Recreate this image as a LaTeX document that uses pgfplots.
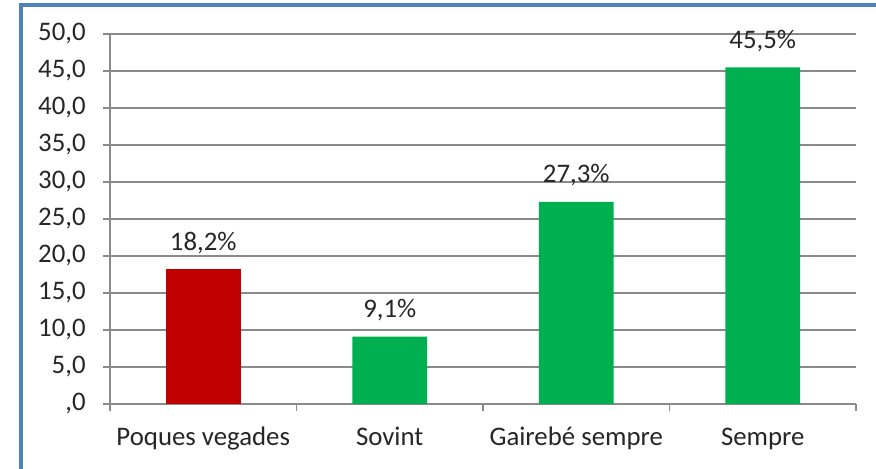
\documentclass[border=0pt]{standalone}
\usepackage{fontspec}
\setmainfont{Carlito}
\usepackage{pgfplots}
\pgfplotsset{compat=1.18}
\definecolor{barred}{HTML}{C00000}
\definecolor{bargreen}{HTML}{00B050}
\definecolor{gridgray}{HTML}{8A8A8A}
\definecolor{frameblue}{HTML}{4F81BD}
\definecolor{txt}{HTML}{262626}
\newcommand{\cf}{\fontsize{13.4}{16}\selectfont}

\begin{document}
\begin{tikzpicture}[x=1pt,y=1pt]
\useasboundingbox (0,0) rectangle (438,234);
\draw[frameblue, line width=2pt] (10.25,-2) -- (10.25,231.7) -- (440,231.7);
\begin{axis}[
    at={(55pt,32pt)}, anchor=south west,
    scale only axis, width=373pt, height=185pt,
    xmin=-0.5, xmax=3.5, ymin=0, ymax=50,
    axis x line=bottom, axis y line=left,
    axis line style={-, draw=gridgray, line width=0.8pt},
    ymajorgrids, major grid style={draw=gridgray, line width=0.8pt},
    tick align=outside, major tick length=3.5pt,
    tick style={draw=gridgray, line width=0.8pt},
    ytick={0,5,...,50},
    yticklabels={{,0},{5,0},{10,0},{15,0},{20,0},{25,0},{30,0},{35,0},{40,0},{45,0},{50,0}},
    yticklabel style={font=\cf, text=txt, anchor=east, inner sep=0pt, xshift=-8.5pt},
    xtick={-0.5,0.5,1.5,2.5,3.5}, xticklabels={},
    extra x ticks={0,1,2,3},
    extra x tick labels={Poques vegades, Sovint, Gairebé sempre, Sempre},
    extra x tick style={major tick length=0pt,
        xticklabel style={font=\cf, text=txt, anchor=base, inner sep=0pt, yshift=-20.5pt}},
    ybar, bar width=0.4, bar shift=0pt,
    nodes near coords, point meta=explicit symbolic,
    every node near coord/.append style={font=\cf, text=txt, anchor=base, inner sep=0pt, yshift=9.5pt},
    clip=false,
]
\addplot[fill=barred, draw=none] coordinates {(0,18.2)[18,2\%]};
\addplot[fill=bargreen, draw=none] coordinates {(1,9.1)[9,1\%] (2,27.3)[27,3\%] (3,45.5)[45,5\%]};
\end{axis}
\end{tikzpicture}
\end{document}
